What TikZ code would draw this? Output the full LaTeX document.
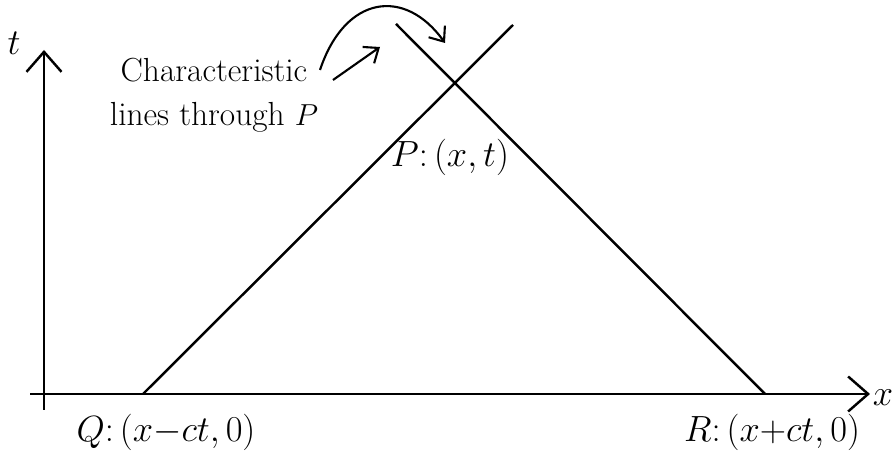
\documentclass[tikz,border=0pt]{standalone}
\usetikzlibrary{arrows.meta, positioning, calc}
\tikzset{
  every picture/.style={line width=1.4pt},
  axis/.style={-{Straight Barb[length=4mm, width=7mm]}},
  pointer/.style={-{Straight Barb[length=2.5mm, width=4mm]}, line width=1.2pt},
  lbl/.style={font=\fontsize{20}{24}\selectfont, inner sep=1pt},
  note/.style={font=\fontsize{19}{25}\selectfont, align=center, inner sep=1pt},
}

\begin{document}
\begin{tikzpicture}[x=0.02cm, y=0.02cm]
  \useasboundingbox (0,0) rectangle (893,455);
  % axes
  \coordinate (tb) at (44,45);
  \coordinate (tt) at (44,405);
  \coordinate (xl) at (30,61);
  \coordinate (xr) at (870,61);
  \draw[axis] (tb) -- (tt);
  \draw[axis] (xl) -- (xr);
  \node[lbl] (tlab) at (14,412) {$t$};
  \node[lbl] (xlab) at (883,57) {$x$};
  % characteristic lines
  \coordinate (Q) at (143,61);
  \coordinate (R) at (765,61);
  \coordinate (P) at (455,372);
  \coordinate (qend) at (513,430);
  \coordinate (rend) at (396,431);
  \draw (Q) -- (qend);
  \draw (R) -- (rend);
  \node[lbl] (plab) at (450,298) {$P{:}\,(x,t)$};
  \node[lbl] (qlab) at (166,23) {$Q{:}\,(x{-}ct,0)$};
  \node[lbl] (rlab) at (772,23) {$R{:}\,(x{+}ct,0)$};
  % note with pointers
  \node[note] (txt) at (214,360) {Characteristic\\lines through $P$};
  \coordinate (ra) at (380,408);
  \coordinate (qa) at (445,412);
  \draw[pointer] (333,375) -- (ra);
  \draw[pointer] (320,385) .. controls (345,460) and (405,468) .. (qa);
\end{tikzpicture}
\end{document}
